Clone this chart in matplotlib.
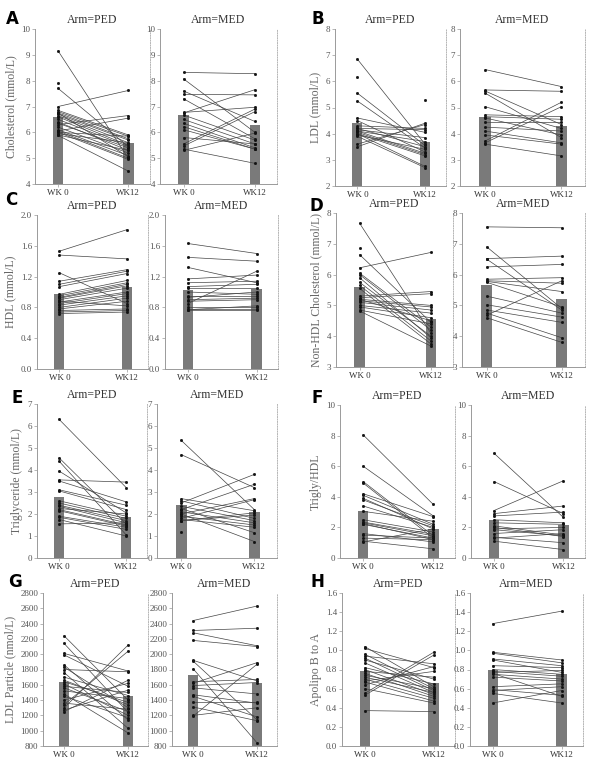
"""Paired lipid values at week 0 and week 12, PED vs MED arm (panels A-H)."""

import numpy as np
import matplotlib.pyplot as plt

nan = np.nan
WEEKS = ["WK 0", "WK12"]
ARMS = ["PED", "MED"]

# --- A: total cholesterol ------------------------------------------------
a_ped_wk0 = [9.15, 7.92, 7.7, 7.0, 6.3, 6.05, 6.85, 6.8, 6.75, 6.7, 6.65, 6.6,
             6.5, 6.4, 6.35, 6.2, 6.1, 6.05, 6.0, 5.95, 5.9, 5.88, 6.75, 6.0]
a_ped_wk12 = [5.0, nan, 5.45, 7.62, 6.65, 6.55, 5.9, 5.85, 5.75, 5.7, 5.6, 5.5,
              5.45, 5.3, 5.4, 5.2, 5.1, 5.0, 4.95, 5.6, 5.3, 4.5, 5.05, 5.85]
a_med_wk0 = [8.32, 8.07, 7.6, 7.47, 7.3, 6.77, 6.75, 6.67, 6.5, 6.35, 6.22,
             6.1, 5.8, 5.55, 5.47, 5.35, 5.3]
a_med_wk12 = [8.27, 6.0, 6.42, 7.45, 5.75, 6.97, 7.65, 5.7, 5.55, 5.4, 5.35,
              5.35, 5.55, 6.9, 6.8, 4.8, 5.97]
a_means = [6.58, 5.60, 6.67, 6.28]

# --- B: LDL ---------------------------------------------------------------
b_ped_wk0 = [6.85, 6.15, 5.55, 5.25, 4.6, 4.5, 4.3, 4.2, 4.15, 4.1, 4.1, 4.05,
             4.0, 4.0, 3.95, 3.9, 3.6, 3.5, 4.2, nan]
b_ped_wk12 = [3.6, nan, 3.55, 3.45, 4.05, 3.3, 4.2, 4.15, 3.85, 3.7, 3.25,
              3.2, 3.15, 2.75, 3.4, 2.7, 4.35, 4.4, 3.5, 5.27]
b_med_wk0 = [6.45, 5.67, 5.63, 5.55, 5.03, 4.72, 4.65, 4.6, 4.45, 4.25, 4.1,
             3.95, 3.72, 3.65, 3.6]
b_med_wk12 = [5.8, 5.62, 4.35, 3.85, 4.2, 4.65, 4.55, 3.95, 4.45, 4.1, 3.65,
              3.6, 5.2, 5.03, 3.15]
b_means = [4.40, 3.70, 4.65, 4.30]

# --- C: HDL ---------------------------------------------------------------
c_ped_wk0 = [1.53, 1.48, 1.25, 1.14, 1.1, 1.07, 0.97, 0.95, 0.93, 0.92, 0.9,
             0.87, 0.85, 0.83, 0.8, 0.78, 0.76, 0.74, 0.72, 0.88]
c_ped_wk12 = [1.81, 1.43, 0.85, 1.29, 1.27, 1.24, 1.15, 1.12, 1.1, 1.08, 1.05,
              1.0, 0.98, 0.95, 0.92, 0.88, 0.78, 0.76, 0.74, 0.82]
c_med_wk0 = [1.63, 1.45, 1.32, 1.17, 1.12, 1.07, 1.05, 1.0, 0.95, 0.93, 0.9,
             0.88, 0.85, 0.8, 0.78, 0.77, 0.76]
c_med_wk12 = [1.5, 1.4, 1.12, 1.22, 1.14, 1.1, 1.05, 0.97, 0.95, 1.0, 0.92,
              0.9, 1.27, 0.8, 0.78, 0.82, 0.76]
c_means = [0.98, 1.06, 1.02, 1.04]

# --- D: non-HDL cholesterol -----------------------------------------------
d_ped_wk0 = [7.67, 6.85, 6.65, 6.22, 6.05, 6.0, 5.75, 5.65, 5.55, 5.3, 5.25,
             5.2, 5.15, 5.1, 5.0, 4.95, 4.85, 4.82, 5.9, 5.2]
d_ped_wk12 = [4.1, nan, 4.45, 6.72, 4.3, 4.2, 4.0, 3.85, 3.75, 5.45, 5.38,
              5.0, 4.95, 4.85, 4.75, 4.6, 4.4, 3.68, 3.95, 4.5]
d_med_wk0 = [7.55, 6.9, 6.52, 6.5, 6.25, 5.85, 5.8, 5.75, 5.3, 5.02, 4.85,
             4.75, 4.68, 4.6, 5.78]
d_med_wk12 = [7.52, 4.9, 6.6, 4.85, 6.33, 5.9, 5.72, 4.95, 4.75, 4.62, 4.45,
              3.95, 5.8, 3.8, 5.45]
d_means = [5.60, 4.55, 5.65, 5.22]

# --- E: triglyceride ------------------------------------------------------
e_ped_wk0 = [6.3, 4.55, 4.4, 3.95, 3.55, 3.5, 3.1, 3.05, 2.6, 2.5, 2.4, 2.35,
             2.25, 2.2, 2.15, 1.9, 1.85, 1.75, 1.55]
e_ped_wk12 = [3.2, 1.55, 1.05, 2.05, 3.45, 2.55, 2.4, 2.2, 1.9, 1.8, 1.7, 1.6,
              2.0, 1.5, 1.45, 1.4, 1.3, 1.0, 1.6]
e_med_wk0 = [5.35, 4.7, 2.7, 2.6, 2.5, 2.35, 2.2, 2.1, 2.0, 1.9, 1.8, 1.75,
             1.7, 1.7, 1.2, 2.25, 2.0]
e_med_wk12 = [2.2, 3.2, 2.15, 1.8, 3.8, 1.7, 3.35, 1.6, 2.7, 1.5, 2.65, 1.4,
              1.95, 2.05, nan, 1.15, 0.75]
e_means = [2.78, 1.85, 2.40, 2.10]

# --- F: triglyceride / HDL ratio ------------------------------------------
f_ped_wk0 = [8.05, 6.0, 5.0, 4.9, 4.2, 4.1, 3.9, 3.8, 3.4, 3.05, 2.5, 2.35,
             2.3, 2.25, 2.2, 1.6, 1.5, 1.3, 1.1, 1.05]
f_ped_wk12 = [3.5, 2.75, 1.45, 1.3, 2.7, 2.2, 1.9, 2.1, 2.0, 2.4, 1.7, 1.55,
              1.45, 1.2, 1.3, 1.05, 1.3, 1.2, 0.6, 1.9]
f_med_wk0 = [6.85, 5.0, 3.1, 2.9, 2.75, 2.5, 2.3, 2.1, 1.9, 1.85, 1.6, 1.35,
             1.3, 1.1, 2.0]
f_med_wk12 = [2.65, 2.9, 5.05, 3.4, 3.0, 2.3, 2.2, 1.5, 2.0, 1.45, 1.85, 1.0,
              1.6, 0.55, 1.4]
f_means = [3.05, 1.90, 2.50, 2.15]

# --- G: LDL particle ------------------------------------------------------
g_ped_wk0 = [2240, 2140, 2010, 1990, 1860, 1830, 1800, 1760, 1700, 1660, 1640,
             1610, 1580, 1560, 1520, 1480, 1450, 1400, 1360, 1340, 1300, 1270,
             1250]
g_ped_wk12 = [1400, 1240, 1780, 1580, 1140, 1300, 1770, 1030, 1460, 1340, 1370,
              1200, 1500, 1250, 1420, 970, 1170, 1620, 1280, 2040, 2120, 1530,
              1660]
g_med_wk0 = [2440, 2310, 2280, 2180, 1920, 1910, 1810, 1640, 1620, 1590, 1560,
             1470, 1450, 1380, 1310, 1200, 1190]
g_med_wk12 = [2630, 2340, 2110, 2100, 1650, 1140, 840, 1670, 1890, 1630, 1480,
              1360, 1180, 1380, 1130, 1300, 1870]
g_means = [1640, 1460, 1730, 1630]

# --- H: apolipoprotein B / A ----------------------------------------------
h_ped_wk0 = [1.04, 1.02, 0.96, 0.94, 0.92, 0.9, 0.87, 0.82, 0.8, 0.78, 0.76,
             0.74, 0.72, 0.7, 0.67, 0.64, 0.6, 0.55, 0.53, 0.37, 0.68]
h_ped_wk12 = [0.62, 0.82, 0.6, 0.86, 0.58, 0.7, 0.56, 0.65, 0.54, 0.72, 0.52,
              0.6, 0.56, 0.5, 0.47, 0.83, 0.45, 0.98, 0.95, 0.36, 0.78]
h_med_wk0 = [1.28, 0.98, 0.97, 0.91, 0.9, 0.84, 0.8, 0.78, 0.77, 0.75, 0.72,
             0.62, 0.59, 0.58, 0.55, 0.45, 0.76]
h_med_wk12 = [1.41, 0.9, 0.87, 0.84, 0.77, 0.82, 0.75, 0.73, 0.79, 0.7, 0.68,
              0.65, 0.53, 0.62, 0.45, 0.58, 0.52]
h_means = [0.78, 0.66, 0.79, 0.75]

# panel boxes in pixels: (ped_left, ped_right, med_left, med_right, top, bottom)
PANELS = [
    dict(letter="A", ylabel="Cholesterol (mmol/L)", yticks=np.arange(4, 11, 1),
         fmt="{:.0f}", data=(a_ped_wk0, a_ped_wk12, a_med_wk0, a_med_wk12),
         means=a_means, box=(35, 150, 160, 277, 29, 184), lpos=(12, 19)),
    dict(letter="B", ylabel="LDL (mmol/L)", yticks=np.arange(2, 9, 1),
         fmt="{:.0f}", data=(b_ped_wk0, b_ped_wk12, b_med_wk0, b_med_wk12),
         means=b_means, box=(335, 446, 460, 585, 29, 186), lpos=(318, 19)),
    dict(letter="C", ylabel="HDL (mmol/L)", yticks=np.arange(0, 2.01, 0.4),
         fmt="{:.1f}", data=(c_ped_wk0, c_ped_wk12, c_med_wk0, c_med_wk12),
         means=c_means, box=(37, 148, 165, 278, 215, 369), lpos=(11, 200)),
    dict(letter="D", ylabel="Non-HDL Cholesterol (mmol/L)",
         yticks=np.arange(3, 9, 1), fmt="{:.0f}",
         data=(d_ped_wk0, d_ped_wk12, d_med_wk0, d_med_wk12),
         means=d_means, box=(336, 453, 462, 585, 213, 367), lpos=(316, 206)),
    dict(letter="E", ylabel="Triglyceride (mmol/L)", yticks=np.arange(0, 8, 1),
         fmt="{:.0f}", data=(e_ped_wk0, e_ped_wk12, e_med_wk0, e_med_wk12),
         means=e_means, box=(37, 147, 157, 277, 404, 558), lpos=(17, 398)),
    dict(letter="F", ylabel="Trigly/HDL", yticks=np.arange(0, 11, 2),
         fmt="{:.0f}", data=(f_ped_wk0, f_ped_wk12, f_med_wk0, f_med_wk12),
         means=f_means, box=(340, 455, 471, 585, 405, 558), lpos=(317, 398)),
    dict(letter="G", ylabel="LDL Particle (nmol/L)",
         yticks=np.arange(800, 2801, 200), fmt="{:.0f}",
         data=(g_ped_wk0, g_ped_wk12, g_med_wk0, g_med_wk12),
         means=g_means, box=(43, 148, 172, 277, 593, 746), lpos=(15, 582)),
    dict(letter="H", ylabel="Apolipo B to A", yticks=np.arange(0, 1.61, 0.2),
         fmt="{:.1f}", data=(h_ped_wk0, h_ped_wk12, h_med_wk0, h_med_wk12),
         means=h_means, box=(342, 455, 470, 583, 593, 746), lpos=(317, 582)),
]

W, H = 600, 777
SERIF = ["Liberation Serif", "DejaVu Serif"]
GREY = "#9a9a9a"
TXT = "#555555"


def style_axes(ax, yticks, fmt):
    ax.set_xlim(-0.33, 1.31)
    ax.set_ylim(yticks[0], yticks[-1])
    ax.set_yticks(yticks)
    ax.set_yticklabels([fmt.format(v) for v in yticks], family=SERIF,
                       fontsize=6.5, color=TXT)
    ax.set_xticks([0, 1])
    ax.set_xticklabels(WEEKS, family=SERIF, fontsize=6.5, color="#333333")
    ax.tick_params(length=2, width=0.5, color=GREY, pad=1.5)
    ax.spines["top"].set_visible(False)
    for side in ("left", "bottom"):
        ax.spines[side].set_color(GREY)
        ax.spines[side].set_linewidth(0.7)
    ax.spines["right"].set_color("#b5b5b5")
    ax.spines["right"].set_linewidth(0.7)
    ax.spines["right"].set_linestyle((0, (1, 1.5)))


fig = plt.figure(figsize=(W / 100, H / 100), dpi=100)

for p in PANELS:
    pl, pr, ml, mr, top, bot = p["box"]
    wk0_p, wk12_p, wk0_m, wk12_m = p["data"]
    pairs = [(wk0_p, wk12_p, p["means"][:2], pl, pr),
             (wk0_m, wk12_m, p["means"][2:], ml, mr)]
    for i, (wk0, wk12, means, left, right) in enumerate(pairs):
        ax = fig.add_axes([left / W, 1 - bot / H, (right - left) / W,
                           (bot - top) / H])
        ax.bar([0, 1], means, width=0.15, color="#7a7a7a", zorder=1)
        xs = np.vstack([np.zeros(len(wk0)), np.ones(len(wk0))])
        ys = np.vstack([np.asarray(wk0, float), np.asarray(wk12, float)])
        ax.plot(xs, ys, "-", color="#444444", lw=0.5, marker="s", ms=1.0,
                mec="#111111", mfc="#111111", zorder=2, clip_on=False)
        style_axes(ax, p["yticks"], p["fmt"])
        ax.set_title(f"Arm={ARMS[i]}", family=SERIF, fontsize=8.5,
                     color="#333333", pad=4)
        if i == 0:
            ax.set_ylabel(p["ylabel"], family=SERIF, fontsize=8.5,
                          color="#666666", labelpad=3)
    lx, ly = p["lpos"]
    fig.text(lx / W, 1 - ly / H, p["letter"], fontsize=12, weight="bold",
             family="DejaVu Sans", ha="center", va="center")

fig.savefig("out.png", dpi=100)
